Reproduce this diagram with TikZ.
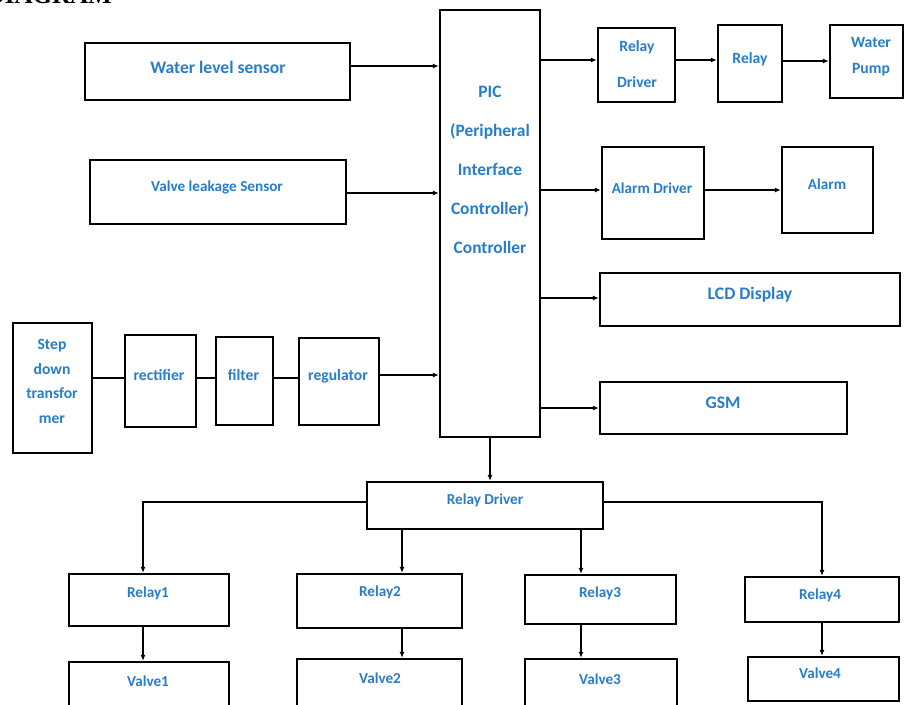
\documentclass[tikz,border=0pt]{standalone}
\usepackage{fontspec}
\setmainfont{Carlito}
\newfontfamily\headfont{Liberation Serif}
\usetikzlibrary{arrows.meta}
\definecolor{lblue}{RGB}{40,125,200}
\begin{document}
\begin{tikzpicture}[x=1pt,y=-1pt,
  box/.style={draw=black, line width=2.3pt, inner sep=0pt},
  arr/.style={line width=1.6pt, -{Latex[length=6pt,width=5pt]}},
  ln/.style={line width=1.6pt},
  big/.style={text=lblue, font=\fontsize{17.6}{21}\selectfont\bfseries, inner sep=0pt, align=center},
  mid/.style={text=lblue, font=\fontsize{15.6}{19}\selectfont\bfseries, inner sep=0pt, align=center},
  lite/.style={text=lblue, font=\fontsize{15.2}{19}\selectfont\bfseries, inner sep=0pt, align=center}]
\useasboundingbox (0,0) rectangle (904,704);
\clip (0,0) rectangle (904,704);
\fill[white] (0,0) rectangle (904,704);

% cut-off heading
\node[anchor=base east, inner sep=0pt, font=\headfont\bfseries\fontsize{25}{30}\selectfont] (head) at (112,3) {DIAGRAM};

% boxes
\node[box, minimum width=265, minimum height=57] (wls) at (217.5,71.5) {};
\node[box, minimum width=256, minimum height=64] (vls) at (218,192) {};
\node[box, minimum width=100, minimum height=427] (pic) at (490,223.5) {};
\node[box, minimum width=77, minimum height=74] (rd1) at (636.5,65) {};
\node[box, minimum width=64, minimum height=77] (rel) at (750,63.5) {};
\node[box, minimum width=73, minimum height=73] (wp) at (866.5,61.5) {};
\node[box, minimum width=102, minimum height=92] (ad) at (653,193) {};
\node[box, minimum width=91, minimum height=86] (al) at (827.5,190) {};
\node[box, minimum width=300, minimum height=53] (lcd) at (750,299.5) {};
\node[box, minimum width=247, minimum height=52] (gsm) at (723.5,408) {};
\node[box, minimum width=79, minimum height=130] (sdt) at (52.5,388) {};
\node[box, minimum width=71, minimum height=92] (rec) at (160.5,381) {};
\node[box, minimum width=57, minimum height=88] (fil) at (244.5,381) {};
\node[box, minimum width=80, minimum height=87] (rgl) at (339,381.5) {};
\node[box, minimum width=236, minimum height=47] (rdb) at (485,505.5) {};
\node[box, minimum width=160, minimum height=52] (r1) at (149,600) {};
\node[box, minimum width=165, minimum height=54] (r2) at (379.5,601) {};
\node[box, minimum width=151, minimum height=49] (r3) at (600.5,599.5) {};
\node[box, minimum width=154, minimum height=45] (r4) at (822,599.5) {};
\node[box, minimum width=160, minimum height=60] (v1) at (149,692) {};
\node[box, minimum width=165, minimum height=62] (v2) at (379.5,690) {};
\node[box, minimum width=152, minimum height=62] (v3) at (601,690) {};
\node[box, minimum width=151, minimum height=44] (v4) at (823.5,679) {};

% texts
\node[big] (twls) at (218,67) {Water level sensor};
\node[lite] (tvls) at (217,187) {Valve leakage Sensor};
\node[big, font=\fontsize{17.4}{39}\selectfont\bfseries] (tpic) at (490,169.5) {PIC\\(Peripheral\\Interface\\Controller)\\Controller};
\node[mid, font=\fontsize{15.6}{36}\selectfont\bfseries] (trd1) at (637,64) {Relay\\Driver};
\node[mid] (trel) at (750,59) {Relay};
\node[mid, font=\fontsize{15.6}{26}\selectfont\bfseries] (twp) at (871,57) {Water\\Pump};
\node[lite] (tad) at (652,188) {Alarm Driver};
\node[lite] (tal) at (827,184) {Alarm};
\node[big] (tlcd) at (750,295) {LCD Display};
\node[big] (tgsm) at (723,403) {GSM};
\node[mid, font=\fontsize{15.6}{24.4}\selectfont\bfseries] (tsdt) at (52,381.5) {Step\\down\\transfor\\mer};
\node[mid] (trec) at (159,375) {rectifier};
\node[mid] (tfil) at (243.5,375) {filter};
\node[mid] (trgl) at (338,376) {regulator};
\node[lite] (trdb) at (485,500) {Relay Driver};
\node[lite] (tr1) at (148,593) {Relay1};
\node[lite] (tr2) at (380,592) {Relay2};
\node[lite] (tr3) at (600,593) {Relay3};
\node[lite] (tr4) at (820,595) {Relay4};
\node[lite] (tv1) at (148,681) {Valve1};
\node[lite] (tv2) at (380,678) {Valve2};
\node[lite] (tv3) at (600,679) {Valve3};
\node[lite] (tv4) at (820,673) {Valve4};

% connectors: inputs
\draw[arr] (wls.east |- 0,66) -- (pic.west |- 0,66);
\draw[arr] (vls.east |- 0,193) -- (pic.west |- 0,193);
\draw[arr] (rgl.east |- 0,375) -- (pic.west |- 0,375);
\draw[ln] (sdt.east |- 0,378) -- (rec.west |- 0,378);
\draw[ln] (rec.east |- 0,378) -- (fil.west |- 0,378);
\draw[ln] (fil.east |- 0,378) -- (rgl.west |- 0,378);

% outputs
\draw[arr] (pic.east |- 0,60) -- (rd1.west |- 0,60);
\draw[arr] (rd1.east |- 0,60) -- (rel.west |- 0,60);
\draw[arr] (rel.east |- 0,61) -- (wp.west |- 0,61);
\draw[arr] (pic.east |- 0,190) -- (ad.west |- 0,190);
\draw[arr] (ad.east |- 0,190) -- (al.west |- 0,190);
\draw[arr] (pic.east |- 0,298) -- (lcd.west |- 0,298);
\draw[arr] (pic.east |- 0,408) -- (gsm.west |- 0,408);

% relay driver branch
\draw[arr] (pic.south -| 490,0) -- (rdb.north -| 490,0);
\draw[arr] (rdb.west |- 0,502) -| (r1.north -| 143,0);
\draw[arr] (rdb.east |- 0,502) -| (r4.north -| 822,0);
\draw[arr] (rdb.south -| 402,0) -- (r2.north -| 402,0);
\draw[arr] (rdb.south -| 581,0) -- (r3.north -| 581,0);
\draw[arr] (r1.south -| 143,0) -- (v1.north -| 143,0);
\draw[arr] (r2.south -| 402,0) -- (v2.north -| 402,0);
\draw[arr] (r3.south -| 581,0) -- (v3.north -| 581,0);
\draw[arr] (r4.south -| 822,0) -- (v4.north -| 822,0);
\end{tikzpicture}
\end{document}
